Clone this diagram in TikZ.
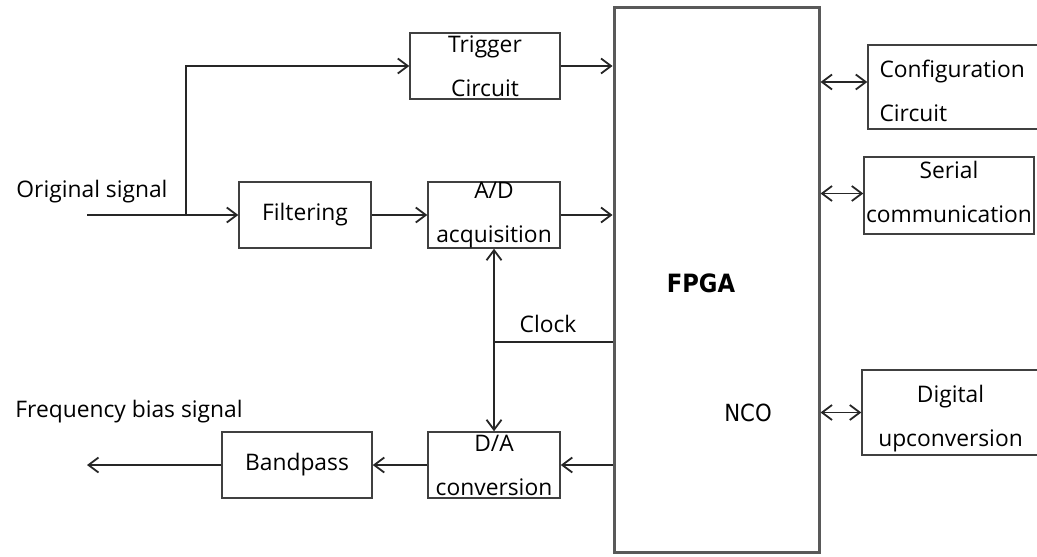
\documentclass[tikz,border=0pt]{standalone}
\usepackage{fontspec}
\setmainfont{Open Sans}
\newfontfamily\condfont{DejaVu Sans Condensed}
\usetikzlibrary{arrows.meta,positioning,calc}

\tikzset{
  blk/.style={draw=black!75, line width=0.75pt, inner sep=0pt, align=center,
    font=\fontsize{11.4}{22}\selectfont},
  sig/.style={line width=0.7pt, black!85},
  >={Straight Barb[length=5pt,width=7.5pt,line width=0.9pt]}
}

\begin{document}
\begin{tikzpicture}[x=0.5pt,y=-0.5pt]
\useasboundingbox (0,0) rectangle (1037,556);
% central FPGA block
\node[draw=black!65, line width=1.5pt, minimum width=102.5pt, minimum height=272pt] (fpga) at (716.5,280) {};
\node[font=\condfont\bfseries\fontsize{12.6}{14}\selectfont] (fpgalbl) at (701,283) {FPGA};
\node[font=\condfont\fontsize{11.8}{14}\selectfont] (nco) at (748,413) {NCO};
% input chain
\node[blk, minimum width=75pt, minimum height=33pt] (trig) at (485,66) {Trigger\\Circuit};
\node[blk, minimum width=66pt, minimum height=33pt] (filt) at (305,215) {Filtering};
\node[blk, minimum width=66pt, minimum height=33pt] (adc) at (494,215) {A/D\\acquisition};
% output chain
\node[blk, minimum width=66pt, minimum height=33pt] (dac) at (494,465) {D/A\\conversion};
\node[blk, minimum width=75pt, minimum height=33pt] (bp) at (297,465) {Bandpass};
% peripherals (rules nudge the text lines up or down a little)
\node[blk, align=left, text width=74pt, minimum width=85.5pt, minimum height=42pt] (cfg) at (953.5,87) {\rule{0pt}{12.6pt}Configuration\\Circuit};
\node[blk, minimum width=85pt, minimum height=38.5pt] (ser) at (949,195.5) {Serial\\communication\rule[-4pt]{0pt}{4pt}};
\node[blk, minimum width=88.5pt, minimum height=42.5pt] (dig) at (950.5,412.5) {\rule{0pt}{14.6pt}Digital\\upconversion};
% free ends and labels
\coordinate (in) at (87,215);
\coordinate (br) at (186,215);
\coordinate (out) at (87,465);
\coordinate (clk) at (494,342);
\node[font=\fontsize{11.4}{13}\selectfont] (inlbl) at (92,192) {Original signal};
\node[font=\fontsize{11.4}{13}\selectfont] (outlbl) at (129,412) {Frequency bias signal};
\node[font=\fontsize{11.4}{13}\selectfont] (clklbl) at (548,324) {Clock};
% connectors
\draw[sig,->] (in) -- (filt.west);
\draw[sig,->] (br) |- (trig.west);
\draw[sig,->] (trig.east) -- (trig.east -| fpga.west);
\draw[sig,->] (filt.east) -- (adc.west);
\draw[sig,->] (adc.east) -- (adc.east -| fpga.west);
\draw[sig,<->] (adc.south) -- (dac.north);
\draw[sig] (clk) -- (clk -| fpga.west);
\draw[sig,->] (dac.east -| fpga.west) -- (dac.east);
\draw[sig,->] (dac.west) -- (bp.west -| bp.east);
\draw[sig,->] (bp.west) -- (out);
\draw[sig,<->] ($(cfg.west -| fpga.east)+(0,-5)$) -- ($(cfg.west)+(0,-5)$);
\draw[sig,<->] ($(ser.west -| fpga.east)+(0,-2)$) -- ($(ser.west)+(0,-2)$);
\draw[sig,<->] (dig.west -| fpga.east) -- (dig.west);
\end{tikzpicture}
\end{document}
